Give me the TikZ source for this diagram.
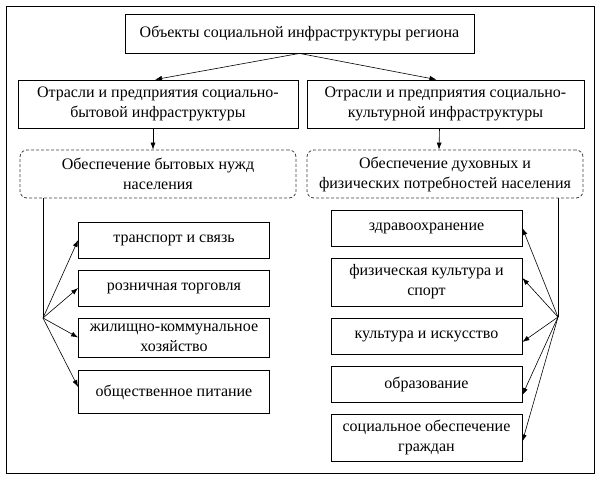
\documentclass[tikz,border=0pt]{standalone}
\usepackage{fontspec}
\setmainfont{Liberation Serif}
\usetikzlibrary{arrows.meta}
\begin{document}
\begin{tikzpicture}[x=1pt,y=-1pt,
  box/.style={draw, line width=0.8pt, align=center, inner sep=2pt, font=\fontsize{16}{20}\selectfont},
  dbox/.style={box, dashed, dash pattern=on 3pt off 2pt, draw=black!75, rounded corners=7pt},
  arr/.style={-{Latex[length=7pt,width=5pt]}, line width=0.6pt},
  ln/.style={line width=0.6pt}]
\useasboundingbox (0,0) rectangle (601,479);
\draw[line width=0.8pt] (6,6) rectangle (594,473);
\node[box, minimum width=349pt, minimum height=39pt] (top) at (299.5,33.5) {Объекты социальной инфраструктуры региона};
\node[box, minimum width=280pt, minimum height=48pt] (L1) at (158,104) {Отрасли и предприятия социально-\\бытовой инфраструктуры};
\node[box, minimum width=277pt, minimum height=48pt] (R1) at (445.5,104) {Отрасли и предприятия социально-\\культурной инфраструктуры};
\node[dbox, minimum width=276pt, minimum height=48pt] (L2) at (158,174) {Обеспечение бытовых нужд\\населения};
\node[dbox, minimum width=276pt, minimum height=48pt] (R2) at (445,174) {Обеспечение духовных и\\физических потребностей населения};
% left boxes
\node[box, minimum width=191pt, minimum height=36pt] (a1) at (174,240) {транспорт и связь};
\node[box, minimum width=191pt, minimum height=36pt] (a2) at (174,288) {розничная торговля};
\node[box, minimum width=191pt, minimum height=39pt] (a3) at (174,337.5) {жилищно-коммунальное\\хозяйство};
\node[box, minimum width=191pt, minimum height=43pt] (a4) at (174,392) {общественное питание};
% right boxes
\node[box, minimum width=191pt, minimum height=36pt] (b1) at (426.5,228) {здравоохранение};
\node[box, minimum width=191pt, minimum height=48pt] (b2) at (426.5,282) {физическая культура и\\спорт};
\node[box, minimum width=191pt, minimum height=36pt] (b3) at (426.5,336) {культура и искусство};
\node[box, minimum width=191pt, minimum height=36pt] (b4) at (426.5,384) {образование};
\node[box, minimum width=191pt, minimum height=47pt] (b5) at (426.5,437.5) {социальное обеспечение\\граждан};
% connectors
\draw[arr] (top.south) -- ([xshift=-3pt]L1.north);
\draw[arr] (top.south) -- ([xshift=-9pt]R1.north);
\draw[arr] ([xshift=-5pt]L1.south) -- ([xshift=-5pt]L2.north);
\draw[arr] ([xshift=-6pt]R1.south) -- ([xshift=-6pt]R2.north);
\coordinate (bl) at (43,318);
\coordinate (br) at (558,317);
\draw[ln] (L2.south -| bl) -- (bl);
\draw[ln] (R2.south -| br) -- (br);
\foreach \n in {a1,a2,a3} \draw[arr] (bl) -- (\n.west);
\draw[arr] (bl) -- ([yshift=5pt]a4.west);
\draw[arr] (br) -- (b1.east);
\draw[arr] (br) -- ([yshift=4pt]b2.east);
\draw[arr] (br) -- ([yshift=-6pt]b3.east);
\draw[arr] (br) -- ([yshift=-11pt]b4.east);
\draw[arr] (br) -- ([yshift=-4pt]b5.east);
\end{tikzpicture}
\end{document}
